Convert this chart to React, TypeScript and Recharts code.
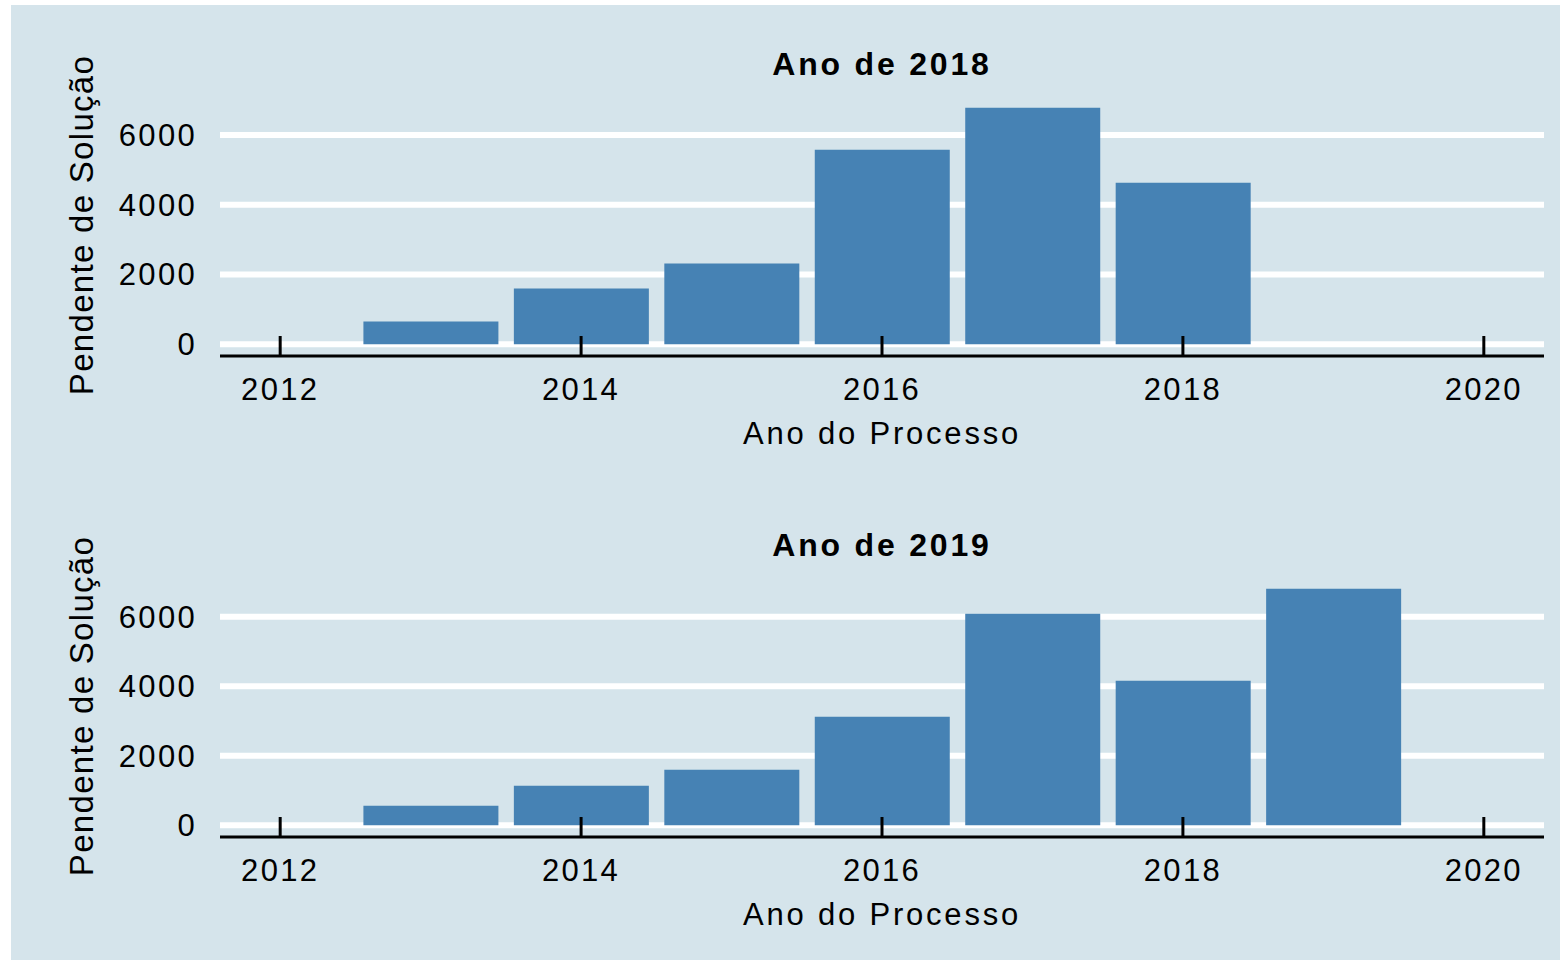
import { BarChart, Bar, XAxis, YAxis, CartesianGrid, Label } from 'recharts';

// Pendentes de solução por ano do processo
const anos2018 = [2013, 2014, 2015, 2016, 2017, 2018];
const pendentes2018 = [654, 1599, 2315, 5580, 6783, 4635];

const anos2019 = [2013, 2014, 2015, 2016, 2017, 2018, 2019];
const pendentes2019 = [561, 1137, 1597, 3122, 6086, 4158, 6806];

const xTicks = [2012, 2014, 2016, 2018, 2020];
const yTicks = [0, 2000, 4000, 6000];

const FONT = '"Liberation Sans", Arial, sans-serif';
const BG = '#d5e4eb';
const BAR = '#4682b4';

const W = 1560;
const H = 480;

interface PanelProps {
    titulo: string;
    anos: number[];
    valores: number[];
    top: number;
}

function Panel({ titulo, anos, valores, top }: PanelProps) {
    const data = anos.map((ano, i) => ({ ano, pendentes: valores[i] }));
    const max = Math.max(...valores);
    // ggplot-like 5% expansion on y
    const yDomain = [-max * 0.05, max * 1.05];

    return (
        <div style={{ position: 'absolute', left: 0, top, width: W, height: H }}>
            <BarChart
                width={W}
                height={H}
                data={data}
                margin={{ top: 96, right: 16, left: 120, bottom: 34 }}
            >
                <text
                    x={882}
                    y={75}
                    textAnchor="middle"
                    fontFamily={FONT}
                    fontWeight="bold"
                    fontSize={32}
                    letterSpacing={2.8}
                    fill="#000"
                >
                    {titulo}
                </text>
                <CartesianGrid vertical={false} horizontalValues={yTicks} stroke="#fff" strokeWidth={6} />
                <XAxis
                    dataKey="ano"
                    type="number"
                    domain={[2011.6, 2020.4]}
                    allowDataOverflow
                    ticks={xTicks}
                    height={90}
                    axisLine={{ stroke: '#000', strokeWidth: 3 }}
                    tickLine={{ stroke: '#000', strokeWidth: 3 }}
                    tickSize={-20}
                    tickMargin={42}
                    tick={{ fill: '#000', fontSize: 31, fontFamily: FONT, letterSpacing: 2.3 }}
                    label={{
                        value: 'Ano do Processo',
                        position: 'insideBottom',
                        offset: 2,
                        fill: '#000',
                        fontSize: 31,
                        fontFamily: FONT,
                        letterSpacing: 2.8,
                    }}
                />
                <YAxis
                    type="number"
                    domain={yDomain}
                    allowDataOverflow
                    ticks={yTicks}
                    width={100}
                    axisLine={false}
                    tickLine={false}
                    tickSize={0}
                    tickMargin={23}
                    tick={{ fill: '#000', fontSize: 31, fontFamily: FONT, letterSpacing: 2.3 }}
                >
                    <Label
                        content={() => {
                            const cx = 93;
                            const cy = 225;
                            return (
                                <text
                                    x={cx}
                                    y={cy}
                                    textAnchor="middle"
                                    transform={`rotate(-90 ${cx} ${cy})`}
                                    fontFamily={FONT}
                                    fontSize={33}
                                    letterSpacing={1.3}
                                    fill="#000"
                                >
                                    Pendente de Solução
                                </text>
                            );
                        }}
                    />
                </YAxis>
                <Bar dataKey="pendentes" fill={BAR} barSize={135} isAnimationActive={false} />
            </BarChart>
        </div>
    );
}

export default function App() {
    return (
        <div style={{ position: 'absolute', left: 0, top: 0, width: W, height: 960 }}>
            <div style={{ position: 'absolute', left: 11, top: 5, width: W - 11, height: 955, background: BG }} />
            <Panel titulo="Ano de 2018" anos={anos2018} valores={pendentes2018} top={0} />
            <Panel titulo="Ano de 2019" anos={anos2019} valores={pendentes2019} top={481} />
        </div>
    );
}
